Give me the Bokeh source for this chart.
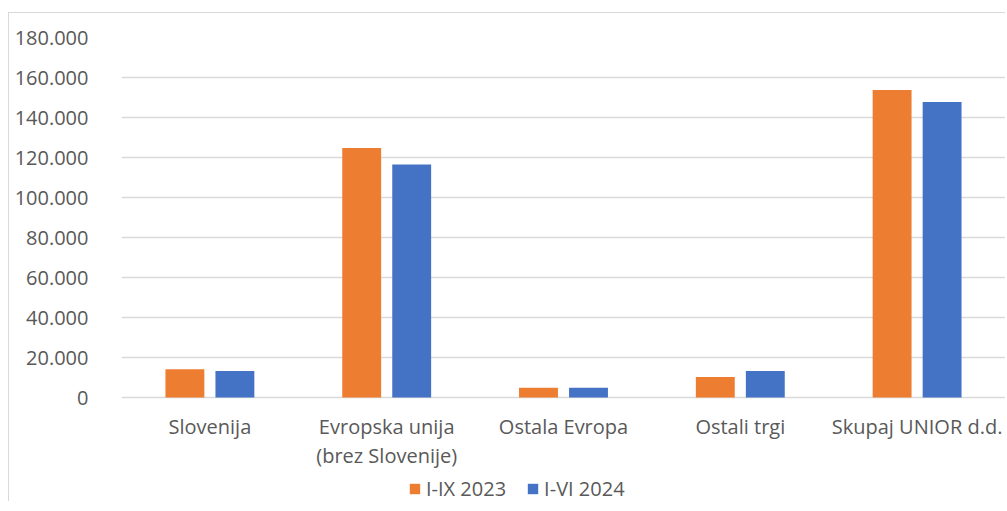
from bokeh.plotting import figure
from bokeh.models import (FactorRange, Range1d, CustomJSTickFormatter, Legend, LegendItem,
                          ColumnDataSource, FixedTicker)
from bokeh.core.properties import value
from bokeh.transform import dodge
from bokeh.embed import file_html
from bokeh.resources import INLINE

categories = ["Slovenija", "Evropska unija\n(brez Slovenije)", "Ostala Evropa", "Ostali trgi", "Skupaj UNIOR d.d."]
series_names = ["I-IX 2023", "I-VI 2024"]
values_2023 = [14100, 124800, 4900, 10300, 153800]
values_2024 = [13300, 116500, 4900, 13300, 147800]
y_ticks = [0, 20000, 40000, 60000, 80000, 100000, 120000, 140000, 160000, 180000]

ORANGE = "#ED7D31"
BLUE = "#4472C4"
TEXT = "#595959"
FONT = "Open Sans"

src = ColumnDataSource(dict(cat=categories, a=values_2023, b=values_2024,
                            zero=[0] * len(categories)))

# frame spans down to the canvas bottom; 0 sits 360 px below 180.000
p = figure(x_range=FactorRange(*categories, range_padding=0), y_range=Range1d(-52500, 180000),
           width=997, height=489, output_backend="svg", toolbar_location=None,
           min_border_left=112, min_border_right=1, min_border_top=24, min_border_bottom=0)
p.margin = (12, 0, 0, 8)
p.styles = {"border-left": "1px solid #d9d9d9", "border-top": "1px solid #d9d9d9"}
p.outline_line_color = None
p.background_fill_color = "white"
p.border_fill_color = "white"
p.xaxis.visible = False

r1 = p.vbar(x=dodge("cat", -0.1414, range=p.x_range), top="a", width=0.22, source=src,
            fill_color=ORANGE, line_color=None)
r2 = p.vbar(x=dodge("cat", 0.1414, range=p.x_range), top="b", width=0.22, source=src,
            fill_color=BLUE, line_color=None)

p.text(x="cat", y="zero", text="cat", source=src, y_offset=15,
       text_align="center", text_baseline="top", text_font=value(FONT),
       text_font_size="20px", text_color=TEXT, text_line_height=1.08)

p.xgrid.grid_line_color = None
p.ygrid.grid_line_color = "#d9d9d9"
p.ygrid.grid_line_width = 1.5
p.ygrid.level = "underlay"

p.yaxis.ticker = FixedTicker(ticks=y_ticks)
p.yaxis.formatter = CustomJSTickFormatter(code=r"""
return Math.round(tick).toString().replace(/\B(?=(\d{3})+(?!\d))/g, '.');
""")
p.yaxis.axis_line_color = None
p.yaxis.major_tick_line_color = None
p.yaxis.minor_tick_line_color = None
p.yaxis.major_label_text_color = TEXT
p.yaxis.major_label_text_font = FONT
p.yaxis.major_label_text_font_size = "20px"
p.yaxis.major_label_standoff = 27

legend = Legend(items=[LegendItem(label=series_names[0], renderers=[r1]),
                       LegendItem(label=series_names[1], renderers=[r2])],
                orientation="horizontal", location=(287, 0))
legend.glyph_width = 13
legend.glyph_height = 13
legend.label_standoff = 5
legend.spacing = 20
legend.padding = 0
legend.margin = 0
legend.border_line_color = None
legend.background_fill_alpha = 0
legend.label_text_font = FONT
legend.label_text_font_size = "20px"
legend.label_text_color = TEXT
p.add_layout(legend, "center")

open("out.html", "w").write(file_html(p, INLINE))
